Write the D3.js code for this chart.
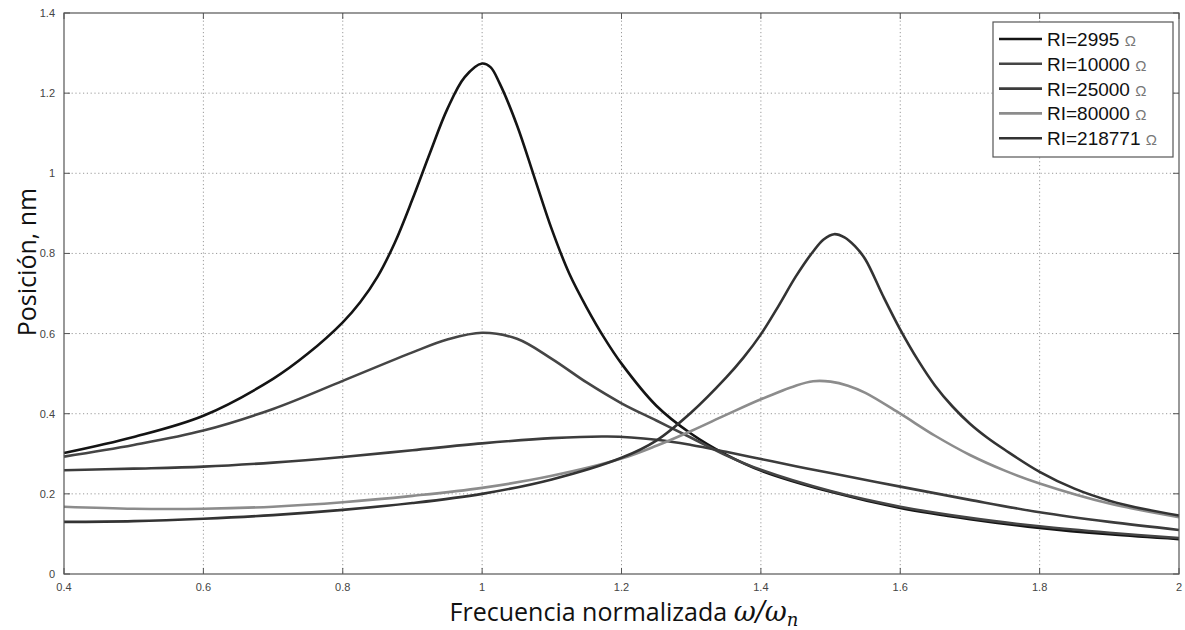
<!DOCTYPE html>
<html>
<head>
<meta charset="utf-8">
<script src="https://cdn.jsdelivr.net/npm/d3@7"></script>
<style>
  body { margin: 0; background: #fff; }
  svg { display: block; }
</style>
</head>
<body>
<svg id="chart" width="1185" height="630"></svg>
<script>
// curves: [w/wn, position nm]
const rl2995 = [
  [0.4, 0.302], [0.5, 0.342], [0.6, 0.395], [0.7, 0.487], [0.75, 0.55], [0.8, 0.628],
  [0.825, 0.678], [0.85, 0.742], [0.875, 0.828], [0.9, 0.935], [0.925, 1.05], [0.95, 1.16],
  [0.975, 1.24], [1.0, 1.274], [1.012, 1.265], [1.025, 1.225], [1.05, 1.12], [1.075, 0.99],
  [1.1, 0.86], [1.125, 0.75], [1.15, 0.665], [1.175, 0.59], [1.2, 0.525], [1.25, 0.42],
  [1.3, 0.35], [1.35, 0.298], [1.4, 0.258], [1.5, 0.205], [1.6, 0.165], [1.7, 0.137],
  [1.8, 0.115], [1.9, 0.099], [2.0, 0.087]
];
const rl10000 = [
  [0.4, 0.293], [0.5, 0.322], [0.6, 0.358], [0.7, 0.412], [0.8, 0.482], [0.9, 0.553],
  [0.95, 0.585], [1.0, 0.602], [1.05, 0.587], [1.1, 0.537], [1.15, 0.478], [1.2, 0.426],
  [1.25, 0.383], [1.3, 0.34], [1.35, 0.296], [1.4, 0.26], [1.5, 0.207], [1.6, 0.168],
  [1.7, 0.14], [1.8, 0.119], [1.9, 0.103], [2.0, 0.09]
];
const rl25000 = [
  [0.4, 0.259], [0.5, 0.263], [0.6, 0.268], [0.7, 0.278], [0.8, 0.292], [0.9, 0.309],
  [1.0, 0.326], [1.1, 0.339], [1.18, 0.343], [1.25, 0.335], [1.3, 0.322], [1.35, 0.305],
  [1.4, 0.287], [1.45, 0.269], [1.5, 0.252], [1.6, 0.218], [1.7, 0.185], [1.8, 0.154],
  [1.9, 0.13], [2.0, 0.11]
];
const rl80000 = [
  [0.4, 0.168], [0.5, 0.163], [0.6, 0.163], [0.7, 0.168], [0.8, 0.179], [0.9, 0.195],
  [1.0, 0.215], [1.1, 0.245], [1.2, 0.288], [1.25, 0.32], [1.3, 0.357], [1.35, 0.397],
  [1.4, 0.436], [1.45, 0.47], [1.475, 0.481], [1.5, 0.48], [1.525, 0.47], [1.55, 0.452],
  [1.6, 0.40], [1.65, 0.345], [1.7, 0.297], [1.75, 0.258], [1.8, 0.226], [1.9, 0.176],
  [2.0, 0.142]
];
const rl218771 = [
  [0.4, 0.13], [0.5, 0.132], [0.6, 0.138], [0.7, 0.147], [0.8, 0.16], [0.9, 0.177],
  [1.0, 0.20], [1.1, 0.236], [1.2, 0.29], [1.25, 0.333], [1.3, 0.403], [1.35, 0.49],
  [1.375, 0.54], [1.4, 0.598], [1.425, 0.668], [1.45, 0.742], [1.475, 0.805], [1.49, 0.835],
  [1.505, 0.848], [1.52, 0.84], [1.535, 0.818], [1.55, 0.785], [1.575, 0.695], [1.6, 0.61],
  [1.625, 0.535], [1.65, 0.47], [1.675, 0.418], [1.7, 0.375], [1.725, 0.34], [1.75, 0.31],
  [1.8, 0.255], [1.85, 0.213], [1.9, 0.183], [1.95, 0.162], [2.0, 0.146]
];

const seriesNames = ["RI=2995", "RI=10000", "RI=25000", "RI=80000", "RI=218771"];
const seriesData = [rl2995, rl10000, rl25000, rl80000, rl218771];
const seriesColors = ["#141414", "#454545", "#3c3c3c", "#8c8c8c", "#333333"];

const xTicks = [0.4, 0.6, 0.8, 1, 1.2, 1.4, 1.6, 1.8, 2];
const yTicks = [0, 0.2, 0.4, 0.6, 0.8, 1, 1.2, 1.4];

const M = { left: 64, right: 1179, top: 13, bottom: 574 };

const svg = d3.select('#chart');
const x = d3.scaleLinear().domain([0.4, 2]).range([M.left, M.right]);
const y = d3.scaleLinear().domain([0, 1.4]).range([M.bottom, M.top]);

// grid
const grid = svg.append('g')
  .attr('stroke', '#9a9a9a')
  .attr('stroke-width', 1)
  .attr('stroke-dasharray', '1.2,2.6');
xTicks.slice(1, -1).forEach(t => {
  grid.append('line')
    .attr('x1', x(t)).attr('x2', x(t))
    .attr('y1', M.top).attr('y2', M.bottom);
});
yTicks.slice(1, -1).forEach(t => {
  grid.append('line')
    .attr('x1', M.left).attr('x2', M.right)
    .attr('y1', y(t)).attr('y2', y(t));
});

// inner ticks on all four sides
const tickLen = 6;
const ticks = svg.append('g').attr('stroke', '#555').attr('stroke-width', 1);
xTicks.forEach(t => {
  ticks.append('line').attr('x1', x(t)).attr('x2', x(t)).attr('y1', M.bottom).attr('y2', M.bottom - tickLen);
  ticks.append('line').attr('x1', x(t)).attr('x2', x(t)).attr('y1', M.top).attr('y2', M.top + tickLen);
});
yTicks.forEach(t => {
  ticks.append('line').attr('x1', M.left).attr('x2', M.left + tickLen).attr('y1', y(t)).attr('y2', y(t));
  ticks.append('line').attr('x1', M.right).attr('x2', M.right - tickLen).attr('y1', y(t)).attr('y2', y(t));
});

// tick labels
const fmt = d => d3.format('~g')(d);
svg.append('g')
  .attr('font-family', 'Liberation Sans, Arial, sans-serif')
  .attr('font-size', 11)
  .attr('fill', '#444')
  .selectAll('text')
  .data(xTicks)
  .join('text')
  .attr('x', d => x(d))
  .attr('y', M.bottom + 17)
  .attr('text-anchor', 'middle')
  .text(fmt);

svg.append('g')
  .attr('font-family', 'Liberation Sans, Arial, sans-serif')
  .attr('font-size', 11)
  .attr('fill', '#444')
  .selectAll('text')
  .data(yTicks)
  .join('text')
  .attr('x', M.left - 9)
  .attr('y', d => y(d) + 4)
  .attr('text-anchor', 'end')
  .text(fmt);

// curves
const line = d3.line()
  .x(d => x(d[0]))
  .y(d => y(d[1]))
  .curve(d3.curveCatmullRom.alpha(0.5));

svg.append('g')
  .attr('fill', 'none')
  .selectAll('path')
  .data(seriesData)
  .join('path')
  .attr('d', line)
  .attr('stroke', (d, i) => seriesColors[i])
  .attr('stroke-width', 2.6)
  .attr('stroke-linejoin', 'round');

// axes box
svg.append('rect')
  .attr('x', M.left).attr('y', M.top)
  .attr('width', M.right - M.left).attr('height', M.bottom - M.top)
  .attr('fill', 'none')
  .attr('stroke', '#555')
  .attr('stroke-width', 1.2);

// legend
const lg = svg.append('g').attr('transform', 'translate(993,22)');
lg.append('rect')
  .attr('width', 180).attr('height', 135)
  .attr('fill', '#fff')
  .attr('stroke', '#555')
  .attr('stroke-width', 1.2);
seriesNames.forEach((name, i) => {
  const ry = 17 + i * 24.8;
  lg.append('line')
    .attr('x1', 6).attr('x2', 49)
    .attr('y1', ry).attr('y2', ry)
    .attr('stroke', seriesColors[i])
    .attr('stroke-width', 2.6);
  const t = lg.append('text')
    .attr('x', 54).attr('y', ry + 7)
    .attr('font-family', 'Liberation Sans, Arial, sans-serif')
    .attr('font-size', 19)
    .attr('fill', '#111');
  t.append('tspan').text(name + ' ');
  t.append('tspan').attr('font-size', 15).attr('fill', '#777').text('Ω');
});

// axis titles
svg.append('text')
  .attr('transform', 'translate(36,262) rotate(-90)')
  .attr('text-anchor', 'middle')
  .attr('font-family', 'Open Sans, sans-serif')
  .attr('font-size', 25)
  .attr('fill', '#111')
  .text('Posición, nm');

const xt = svg.append('text')
  .attr('x', 624)
  .attr('y', 621)
  .attr('text-anchor', 'middle')
  .attr('font-family', 'Open Sans, sans-serif')
  .attr('font-size', 25)
  .attr('fill', '#111');
xt.append('tspan').text('Frecuencia normalizada ');
xt.append('tspan').attr('font-family', 'DejaVu Serif, serif').attr('font-style', 'italic')
  .attr('font-size', 27).text('ω/ω');
xt.append('tspan').attr('font-family', 'DejaVu Serif, serif').attr('font-style', 'italic')
  .attr('font-size', 18).attr('dy', 5).text('n');
</script>
</body>
</html>
